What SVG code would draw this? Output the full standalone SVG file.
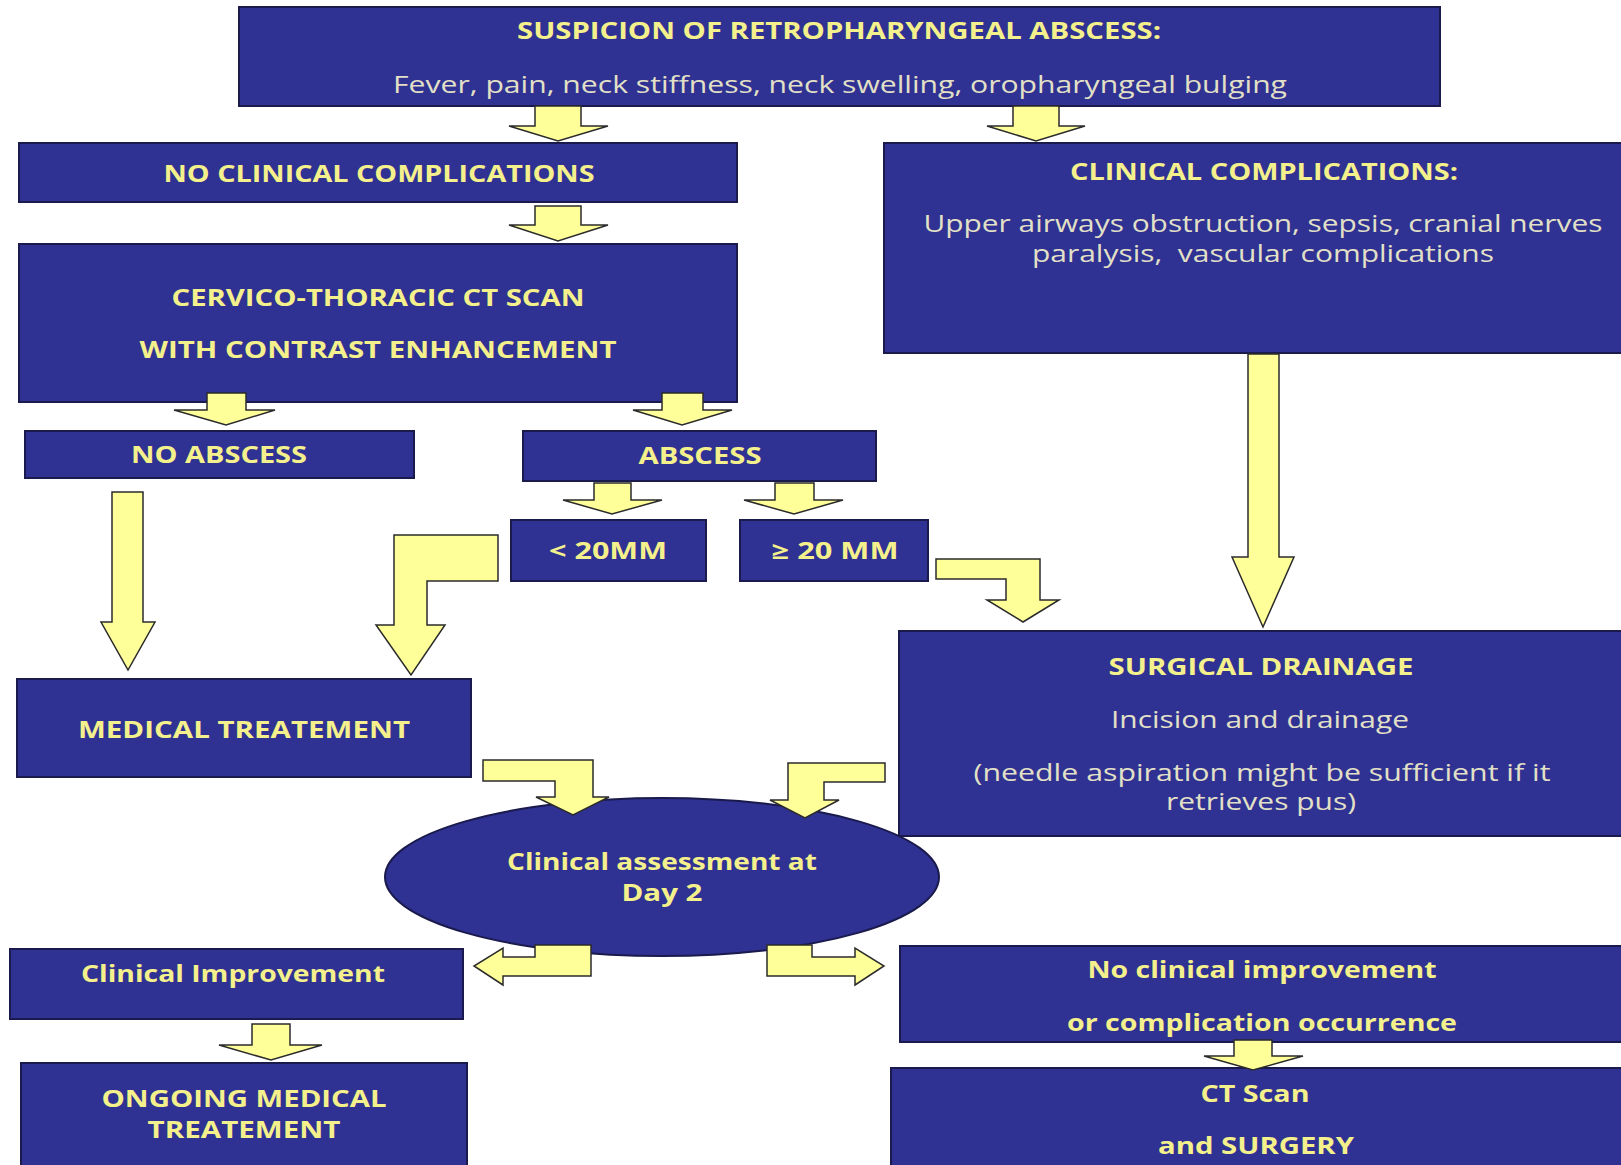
<svg xmlns="http://www.w3.org/2000/svg" width="1621" height="1165" viewBox="0 0 1621 1165">
<style>
.box{fill:#2F3193;stroke:#1A1A4C;stroke-width:2}
.t{font-family:"Open Sans","Liberation Sans",sans-serif;font-size:23px;font-weight:bold;fill:#F4F08C;text-anchor:middle;white-space:pre}
.r{font-family:"Open Sans","Liberation Sans",sans-serif;font-size:23px;fill:#E2E0C6;text-anchor:middle;white-space:pre}
.arr{fill:#FFFF99;stroke:#2B2B2B;stroke-width:1.5;stroke-linejoin:miter}
</style>
<rect width="1621" height="1165" fill="#FFFFFF"/>
<g id="n-suspicion">
<rect class="box" x="239" y="7" width="1201" height="99"/>
<text class="t" x="839" y="39" textLength="644" lengthAdjust="spacingAndGlyphs">SUSPICION OF RETROPHARYNGEAL ABSCESS:</text>
<text class="r" x="840" y="93" textLength="894" lengthAdjust="spacingAndGlyphs">Fever, pain, neck stiffness, neck swelling, oropharyngeal bulging</text>
</g>
<g id="n-noclin">
<rect class="box" x="19" y="143" width="718" height="59"/>
<text class="t" x="379" y="182" textLength="431" lengthAdjust="spacingAndGlyphs">NO CLINICAL COMPLICATIONS</text>
</g>
<g id="n-clin">
<rect class="box" x="884" y="143" width="745" height="210"/>
<text class="t" x="1264" y="180" textLength="388" lengthAdjust="spacingAndGlyphs">CLINICAL COMPLICATIONS:</text>
<text class="r" x="1263" y="232" textLength="679" lengthAdjust="spacingAndGlyphs">Upper airways obstruction, sepsis, cranial nerves</text>
<text class="r" x="1263" y="262" textLength="462" lengthAdjust="spacingAndGlyphs" xml:space="preserve">paralysis,  vascular complications</text>
</g>
<g id="n-ct">
<rect class="box" x="19" y="244" width="718" height="158"/>
<text class="t" x="378" y="306" textLength="413" lengthAdjust="spacingAndGlyphs">CERVICO-THORACIC CT SCAN</text>
<text class="t" x="378" y="358" textLength="477" lengthAdjust="spacingAndGlyphs">WITH CONTRAST ENHANCEMENT</text>
</g>
<g id="n-noabscess">
<rect class="box" x="25" y="431" width="389" height="47"/>
<text class="t" x="219" y="463" textLength="176" lengthAdjust="spacingAndGlyphs">NO ABSCESS</text>
</g>
<g id="n-abscess">
<rect class="box" x="523" y="431" width="353" height="50"/>
<text class="t" x="700" y="464" textLength="123" lengthAdjust="spacingAndGlyphs">ABSCESS</text>
</g>
<g id="n-lt20">
<rect class="box" x="511" y="520" width="195" height="61"/>
<text class="t" x="608" y="559" textLength="118" lengthAdjust="spacingAndGlyphs">&lt; 20MM</text>
</g>
<g id="n-ge20">
<rect class="box" x="740" y="520" width="188" height="61"/>
<text class="t" x="835" y="559" textLength="127" lengthAdjust="spacingAndGlyphs">≥ 20 MM</text>
</g>
<g id="n-medical">
<rect class="box" x="17" y="679" width="454" height="98"/>
<text class="t" x="244" y="738" textLength="332" lengthAdjust="spacingAndGlyphs">MEDICAL TREATEMENT</text>
</g>
<g id="n-surgical">
<rect class="box" x="899" y="631" width="730" height="205"/>
<text class="t" x="1261" y="675" textLength="305" lengthAdjust="spacingAndGlyphs">SURGICAL DRAINAGE</text>
<text class="r" x="1260" y="728" textLength="298" lengthAdjust="spacingAndGlyphs">Incision and drainage</text>
<text class="r" x="1262" y="781" textLength="577" lengthAdjust="spacingAndGlyphs">(needle aspiration might be sufficient if it</text>
<text class="r" x="1261" y="810" textLength="190" lengthAdjust="spacingAndGlyphs">retrieves pus)</text>
</g>
<g id="n-assessment">
<ellipse class="box" cx="662" cy="877" rx="277" ry="79"/>
<text class="t" x="662" y="870" textLength="310" lengthAdjust="spacingAndGlyphs">Clinical assessment at</text>
<text class="t" x="662" y="901" textLength="81" lengthAdjust="spacingAndGlyphs">Day 2</text>
</g>
<g id="n-improvement">
<rect class="box" x="10" y="949" width="453" height="70"/>
<text class="t" x="233" y="982" textLength="304" lengthAdjust="spacingAndGlyphs">Clinical Improvement</text>
</g>
<g id="n-ongoing">
<rect class="box" x="21" y="1063" width="446" height="110"/>
<text class="t" x="244" y="1107" textLength="285" lengthAdjust="spacingAndGlyphs">ONGOING MEDICAL</text>
<text class="t" x="244" y="1138" textLength="193" lengthAdjust="spacingAndGlyphs">TREATEMENT</text>
</g>
<g id="n-noimprovement">
<rect class="box" x="900" y="946" width="729" height="96"/>
<text class="t" x="1262" y="978" textLength="349" lengthAdjust="spacingAndGlyphs">No clinical improvement</text>
<text class="t" x="1262" y="1031" textLength="390" lengthAdjust="spacingAndGlyphs">or complication occurrence</text>
</g>
<g id="n-ctsurgery">
<rect class="box" x="891" y="1068" width="738" height="105"/>
<text class="t" x="1255" y="1102" textLength="109" lengthAdjust="spacingAndGlyphs">CT Scan</text>
<text class="t" x="1256" y="1154" textLength="196" lengthAdjust="spacingAndGlyphs">and SURGERY</text>
</g>
<g id="connectors">
<polygon class="arr" points="535,106 581,106 581,126 608,126 558,141 509,126 535,126"/>
<polygon class="arr" points="1013,106 1059,106 1059,126 1085,126 1036,141 987,126 1013,126"/>
<polygon class="arr" points="535,206 581,206 581,225 608,225 558,241 509,225 535,225"/>
<polygon class="arr" points="207,393 246,393 246,410 275,410 226,425 174,410 207,410"/>
<polygon class="arr" points="662,393 703,393 703,410 732,410 682,425 633,410 662,410"/>
<polygon class="arr" points="594,483 631,483 631,500 662,500 612,514 563,500 594,500"/>
<polygon class="arr" points="775,483 814,483 814,500 843,500 794,514 744,500 775,500"/>
<polygon class="arr" points="112,492 143,492 143,622 155,622 128,670 101,622 112,622"/>
<polygon class="arr" points="498,535 394,535 394,625 376,625 411,675 445,625 427,625 427,581 498,581"/>
<polygon class="arr" points="936,559 1040,559 1040,600 1059,600 1023,622 987,600 1006,600 1006,579 936,579"/>
<polygon class="arr" points="1248,354 1279,354 1279,557 1294,557 1263,627 1232,557 1248,557"/>
<polygon class="arr" points="483,760 593,760 593,797 609,797 573,815 536,797 555,797 555,781 483,781"/>
<polygon class="arr" points="885,763 788,763 788,800 770,800 805,818 839,800 824,800 824,782 885,782"/>
<polygon class="arr" points="535,945 591,945 591,976 503,976 503,985 474,966 503,948 503,957 535,957"/>
<polygon class="arr" points="767,945 812,945 812,957 855,957 855,948 884,966 855,985 855,976 767,976"/>
<polygon class="arr" points="252,1024 290,1024 290,1045 322,1045 271,1060 219,1045 252,1045"/>
<polygon class="arr" points="1234,1040 1272,1040 1272,1056 1303,1056 1253,1070 1204,1056 1234,1056"/>
</g>
</svg>
